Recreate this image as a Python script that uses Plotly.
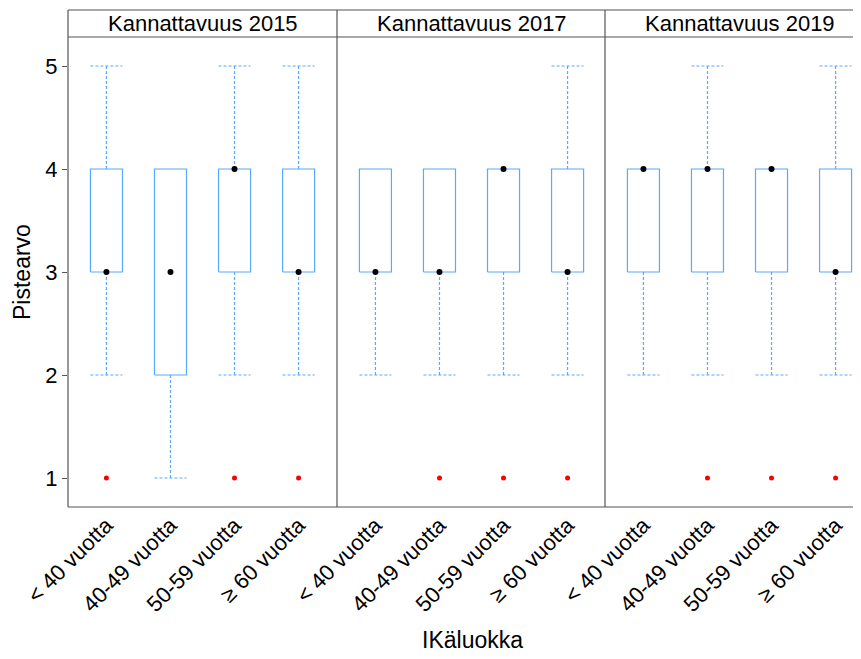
import plotly.graph_objects as go

# ---- data ----
categories = ["< 40 vuotta", "40-49 vuotta", "50-59 vuotta", "≥ 60 vuotta"]
panels = ["Kannattavuus 2015", "Kannattavuus 2017", "Kannattavuus 2019"]

lower_2015 = [2, 1, 2, 2]
q1_2015 = [3, 2, 3, 3]
med_2015 = [3, 3, 4, 3]
q3_2015 = [4, 4, 4, 4]
upper_2015 = [5, 4, 5, 5]
out_2015 = [1, None, 1, 1]

lower_2017 = [2, 2, 2, 2]
q1_2017 = [3, 3, 3, 3]
med_2017 = [3, 3, 4, 3]
q3_2017 = [4, 4, 4, 4]
upper_2017 = [4, 4, 4, 5]
out_2017 = [None, 1, 1, 1]

lower_2019 = [2, 2, 2, 2]
q1_2019 = [3, 3, 3, 3]
med_2019 = [4, 4, 4, 3]
q3_2019 = [4, 4, 4, 4]
upper_2019 = [4, 5, 4, 5]
out_2019 = [None, 1, 1, 1]

panel_data = [
    (lower_2015, q1_2015, med_2015, q3_2015, upper_2015, out_2015),
    (lower_2017, q1_2017, med_2017, q3_2017, upper_2017, out_2017),
    (lower_2019, q1_2019, med_2019, q3_2019, upper_2019, out_2019),
]

# ---- layout constants (page body has an 8px margin) ----
OFF = 8
W, H = 861 - OFF, 659 - OFF
ML, MR, MT, MB = 68 - OFF, 0, 10 - OFF, 152
plot_w = W - ML - MR
plot_h = H - MT - MB
bottom_px = 507 - OFF
strip_bottom_px = 37 - OFF
ydom_top = (bottom_px - strip_bottom_px) / plot_h
panel_px = [(68 - OFF, 337 - OFF), (337 - OFF, 605 - OFF), (605 - OFF, 861 - OFF)]
unit_px = 269 / 4.2

BOX_COL = "#5aa8ff"
WHISK_COL = "#5aa8ff"
FRAME = "#555555"
FONT = "Liberation Sans, Arial, sans-serif"
hw = 0.25

fig = go.Figure()

for p, (lo, q1, med, q3, up, out) in enumerate(panel_data):
    xa = "x" if p == 0 else f"x{p+1}"
    ya = "y" if p == 0 else f"y{p+1}"
    bx, by, wx, wy = [], [], [], []
    ox, oy = [], []
    for i in range(len(categories)):
        c = i + 1
        bx += [c - hw, c + hw, c + hw, c - hw, c - hw, None]
        by += [q1[i], q1[i], q3[i], q3[i], q1[i], None]
        if up[i] > q3[i]:
            wx += [c, c, None, c - hw, c + hw, None]
            wy += [q3[i], up[i], None, up[i], up[i], None]
        if lo[i] < q1[i]:
            wx += [c, c, None, c - hw, c + hw, None]
            wy += [q1[i], lo[i], None, lo[i], lo[i], None]
        if out[i] is not None:
            ox.append(c)
            oy.append(out[i])
    fig.add_trace(go.Scatter(x=wx, y=wy, mode="lines", xaxis=xa, yaxis=ya,
                             line=dict(color=WHISK_COL, width=1.2, dash="3px,2px"),
                             showlegend=False, hoverinfo="skip"))
    fig.add_trace(go.Scatter(x=bx, y=by, mode="lines", xaxis=xa, yaxis=ya,
                             line=dict(color=BOX_COL, width=1.2),
                             showlegend=False, hoverinfo="skip"))
    fig.add_trace(go.Scatter(x=[i + 1 for i in range(len(categories))], y=med,
                             mode="markers", xaxis=xa, yaxis=ya,
                             marker=dict(color="black", size=6),
                             showlegend=False))
    fig.add_trace(go.Scatter(x=ox, y=oy, mode="markers", xaxis=xa, yaxis=ya,
                             marker=dict(color="red", size=5),
                             showlegend=False))

layout = dict(
    width=W, height=H,
    margin=dict(l=ML, r=MR, t=MT, b=MB),
    plot_bgcolor="white", paper_bgcolor="white",
    font=dict(family=FONT, color="black"),
    showlegend=False,
)

for p in range(3):
    x0px, x1px = panel_px[p]
    dom = [(x0px - ML) / plot_w, min(1.0, (x1px - ML) / plot_w)]
    xr0 = 0.4
    xr1 = xr0 + (x1px - x0px) / unit_px
    key = "xaxis" if p == 0 else f"xaxis{p+1}"
    ykey = "yaxis" if p == 0 else f"yaxis{p+1}"
    layout[key] = dict(domain=dom, range=[xr0, xr1], tickvals=[1, 2, 3, 4],
                       ticktext=categories, tickangle=-45, ticks="",
                       showgrid=False, zeroline=False, showline=False,
                       tickfont=dict(size=22, family=FONT),
                       anchor="y" if p == 0 else f"y{p+1}")
    ydict = dict(domain=[0, ydom_top], range=[0.7184, 5.2816], showgrid=False,
                 zeroline=False, showline=False,
                 anchor="x" if p == 0 else f"x{p+1}")
    if p == 0:
        ydict.update(tickvals=[1, 2, 3, 4, 5], ticks="outside", ticklen=5,
                     tickcolor=FRAME, tickfont=dict(size=22, family=FONT))
    else:
        ydict.update(showticklabels=False, ticks="")
    layout[ykey] = ydict

fig.update_layout(**layout)

shapes = []
line = dict(color=FRAME, width=1.2)
shapes.append(dict(type="line", xref="paper", yref="paper", x0=0, x1=1.02, y0=1, y1=1, line=line))
shapes.append(dict(type="line", xref="paper", yref="paper", x0=0, x1=1.02, y0=0, y1=0, line=line))
shapes.append(dict(type="line", xref="paper", yref="paper", x0=0, x1=1.02, y0=ydom_top, y1=ydom_top, line=line))
shapes.append(dict(type="line", xref="paper", yref="paper", x0=0, x1=0, y0=0, y1=1, line=line))
for sep in [337, 605]:
    xp = (sep - OFF - ML) / plot_w
    shapes.append(dict(type="line", xref="paper", yref="paper", x0=xp, x1=xp, y0=0, y1=1, line=line))
fig.update_layout(shapes=shapes)

annotations = []
for p, title in enumerate(panels):
    x0px = panel_px[p][0]
    cx = (x0px + 134.5 - ML) / plot_w
    annotations.append(dict(text=title, x=cx, y=(ydom_top + 1) / 2, xref="paper", yref="paper",
                            xanchor="center", yanchor="middle", showarrow=False,
                            font=dict(size=22, family=FONT, color="black")))
annotations.append(dict(text="IKäluokka", x=(472 - OFF - ML) / plot_w,
                        y=-(640 - OFF - bottom_px) / plot_h,
                        xref="paper", yref="paper", xanchor="center", yanchor="middle",
                        showarrow=False, font=dict(size=23, family=FONT, color="black")))
annotations.append(dict(text="Pistearvo", x=(22 - OFF - ML) / plot_w,
                        y=(bottom_px - (272 - OFF)) / plot_h,
                        xref="paper", yref="paper", xanchor="center", yanchor="middle",
                        textangle=-90, showarrow=False,
                        font=dict(size=23, family=FONT, color="black")))
fig.update_layout(annotations=annotations)

fig.write_html("out.html")
